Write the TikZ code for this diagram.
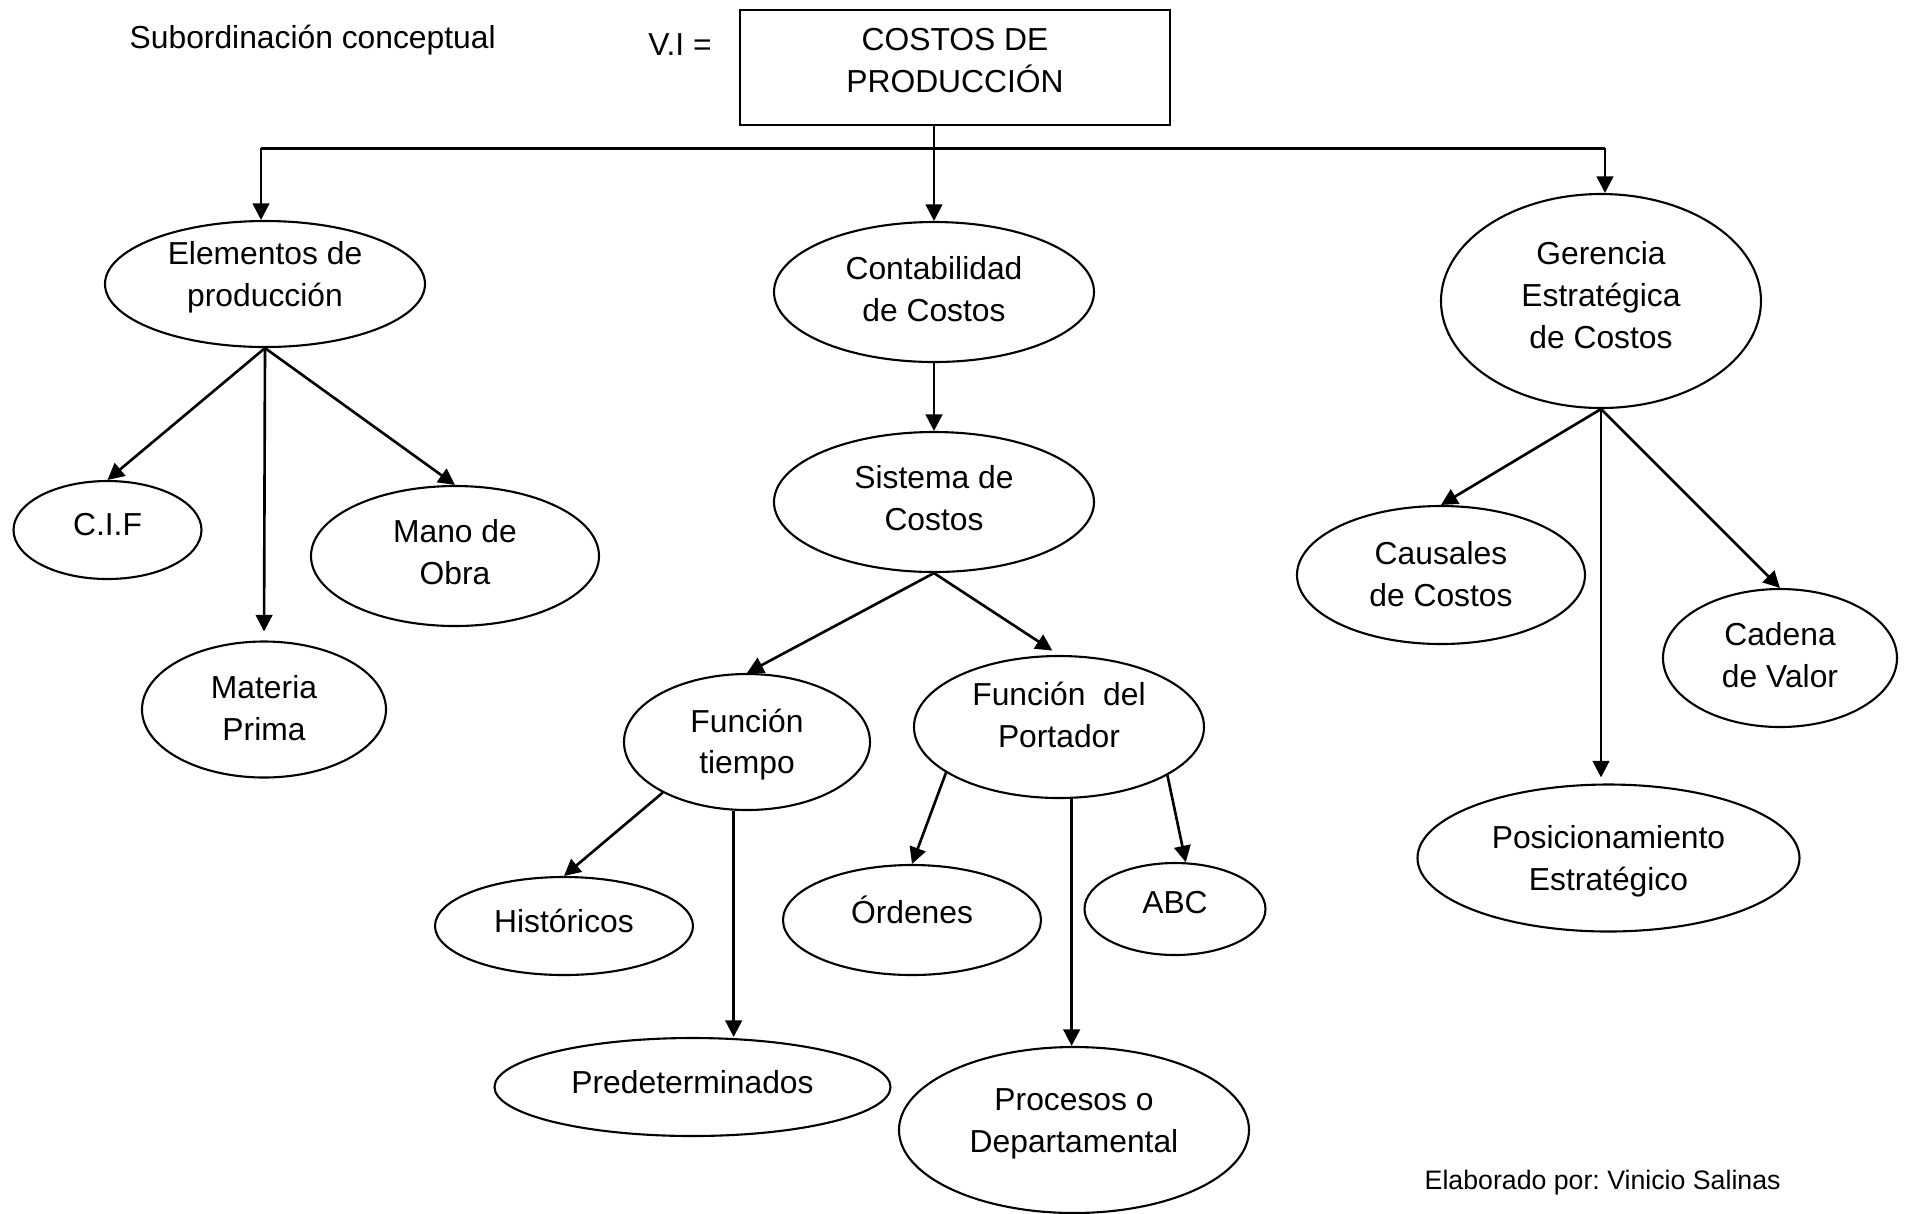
\documentclass[tikz,border=0pt]{standalone}
\usepackage{fontspec}
\setmainfont{Liberation Sans}
\usetikzlibrary{shapes.geometric,arrows.meta}
\frenchspacing
\begin{document}
\begin{tikzpicture}[x=0.1mm,y=-0.1mm,
  every node/.style={font=\fontsize{9.05}{11.9}\selectfont},
  oval/.style={draw,ellipse,line width=0.6pt,inner sep=0pt},
  sz/.style 2 args={minimum width=#1*0.2mm,minimum height=#2*0.2mm},
  lbl/.style={align=center,inner sep=0pt},
  % text of an oval, moved down by #1 (in 0.1mm steps)
  txt/.style 2 args={label={[lbl,yshift=-(#1)*0.1mm]center:#2}},
  arr/.style={-{Triangle[length=4.7pt,width=4.7pt]},line width=0.75pt}]
\useasboundingbox (0,0) rectangle (1905,1213);

% heading
\node[anchor=west,inner sep=0pt] (title) at (129,40.5) {Subordinación conceptual};
\node (vi) at (680,45) {V.I =};
\node[draw,line width=0.7pt,minimum width=43mm,minimum height=11.5mm,
  label={[lbl,yshift=0.7mm]center:COSTOS DE\\PRODUCCIÓN}] (box) at (955,67.5) {};

% first level
\node[oval,sz={160}{63},txt={-7}{Elementos de\\producción}]          (elem) at (265,284)  {};
\node[oval,sz={160}{70},txt={-2.5}{Contabilidad\\de Costos}]         (cont) at (934,292)  {};
\node[oval,sz={160}{107},txt={-6}{Gerencia\\Estratégica\\de Costos}] (ger)  at (1601,301) {};

% production elements
\node[oval,sz={94}{49},txt={-5}{C.I.F}]             (cif)  at (107.5,530) {};
\node[oval,sz={122}{68},txt={-1}{Materia\\Prima}]   (mat)  at (264,709.5) {};
\node[oval,sz={144}{70},txt={-4}{Mano de\\Obra}]    (mano) at (455,556)   {};

% cost systems
\node[oval,sz={160}{70},txt={-4}{Sistema de\\Costos}]             (sis)  at (934,502)    {};
\node[oval,sz={123}{68},txt={2.5}{Función\\tiempo}]               (ft)   at (747,742)    {};
\node[oval,sz={145}{71},txt={-12}{Función~ del\\Portador}]        (fp)   at (1059,727)   {};
\node[oval,sz={129}{49},txt={-5}{Históricos}]                     (hist) at (564,926)    {};
\node[oval,sz={198}{49},txt={-5}{Predeterminados}]                (pred) at (692.5,1087) {};
\node[oval,sz={129}{55},txt={-10}{Órdenes}]                       (ord)  at (912,920)    {};
\node[oval,sz={90.5}{46},txt={-6}{ABC}]                           (abc)  at (1175,909)   {};
\node[oval,sz={175}{83},txt={-6}{Procesos o\\Departamental}]      (proc) at (1074,1130)  {};

% strategic cost management
\node[oval,sz={144}{69},txt={-1}{Causales\\de Costos}]               (caus) at (1441,575)   {};
\node[oval,sz={117}{69},txt={-2.5}{Cadena\\de Valor}]                (cad)  at (1780,658)   {};
\node[oval,sz={191}{73.5},txt={3.5}{Posicionamiento\\Estratégico}]   (posi) at (1608.5,858) {};

\node[anchor=west,inner sep=0pt,font=\fontsize{7.6}{9}\selectfont] (credit) at (1424,1183)
  {Elaborado por: Vinicio Salinas};

% distribution bar
\coordinate (barL) at (261,148);
\coordinate (barR) at (1605,148);
\draw[line width=0.85pt] (barL) -- (barR);
\draw[arr] (cont.north |- box.south) -- (cont.north);
\draw[arr] (barL) -- (barL |- elem.north);
\draw[arr] (barR) -- (barR |- ger.north);

% connectors
\draw[arr] (elem.south) -- (cif.north);
\draw[arr,shorten >=0.9mm] (elem.south) -- (mat.north);
\draw[arr] (elem.south) -- (mano.north);

\draw[arr] (cont.south) -- (sis.north);
\draw[arr] (sis.south) -- (ft.north);
\draw[arr,shorten >=0.8mm] (sis.south) -- (fp.north);
\draw[arr] (ft.211) -- (hist.north);
\draw[arr] (ft.259) -- (ft.259 |- pred.north);
\draw[arr] (fp.202) -- (ord.north);
\draw[arr] (fp.280) -- (fp.280 |- proc.north);
\draw[arr] (fp.336) -- (abc.77);

\draw[arr] (ger.south) -- (caus.north);
\draw[arr,shorten >=0.6mm] (ger.south) -- (ger.south |- posi.north);
\draw[arr] (ger.south) -- (cad.north);
\end{tikzpicture}
\end{document}
